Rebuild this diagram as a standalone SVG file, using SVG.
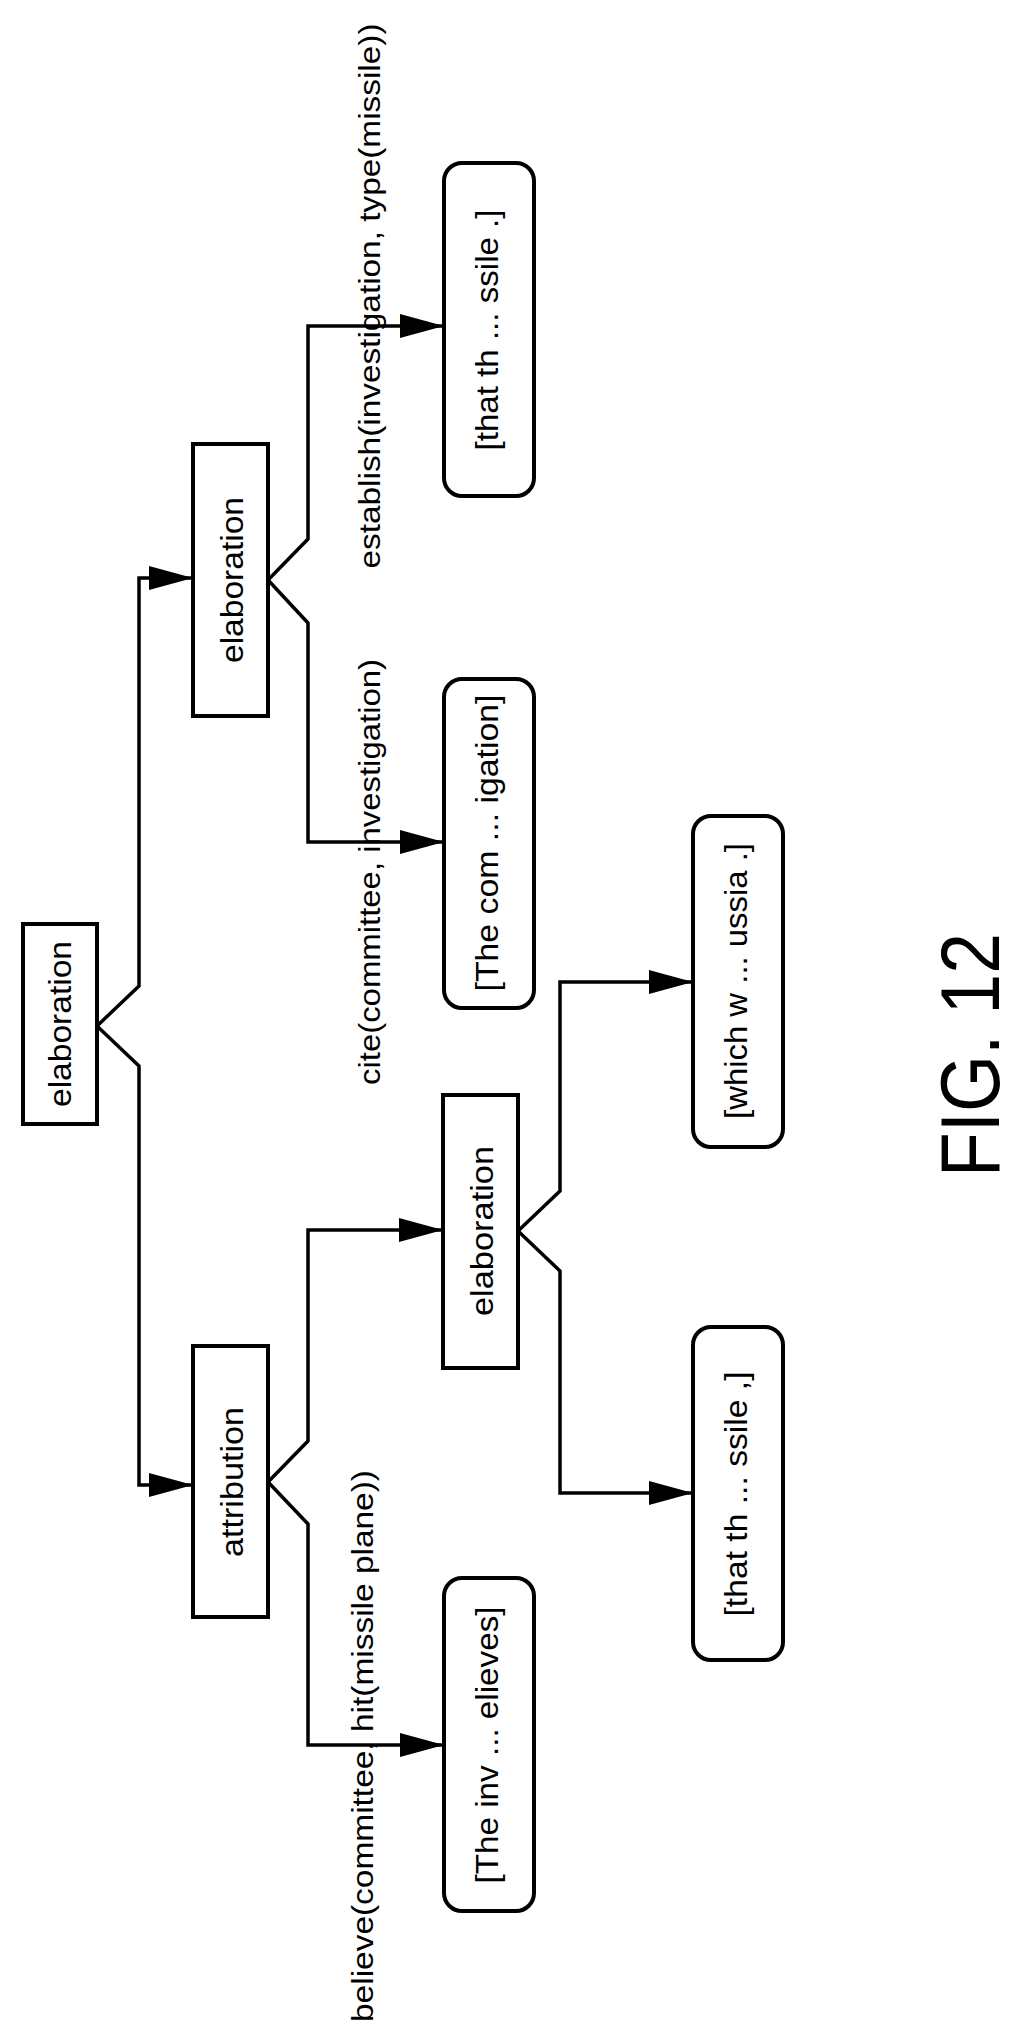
<svg xmlns="http://www.w3.org/2000/svg" width="1016" height="2040" viewBox="0 0 1016 2040">
<style>
.box{fill:#fff;stroke:#000;stroke-width:4}
.t{font-family:"Liberation Sans",Arial,sans-serif;font-size:32px;fill:#000;text-anchor:middle;dominant-baseline:central}
.lbl{font-family:"Liberation Sans",Arial,sans-serif;font-size:30px;fill:#000;text-anchor:middle;dominant-baseline:central}
.c{fill:none;stroke:#000;stroke-width:3.5}
</style>
<defs>
<marker id="a" markerWidth="12" markerHeight="8" refX="12" refY="4" orient="auto" markerUnits="userSpaceOnUse" viewBox="0 0 12 8">
<path d="M0,0 L12,4 L0,8 Z" fill="#000"/>
</marker>
<marker id="ah" markerWidth="44" markerHeight="24" refX="44" refY="12" orient="auto" markerUnits="userSpaceOnUse">
<path d="M0,0 L44,12 L0,24 Z" fill="#000"/>
</marker>
</defs>
<g id="connectors">
<path class="c" d="M97,1026 L139,986 L139,578 L193,578" marker-end="url(#ah)"/>
<path class="c" d="M97,1026 L139,1066 L139,1485 L193,1485" marker-end="url(#ah)"/>
<path class="c" d="M268,580 L308,539 L308,326 L444,326" marker-end="url(#ah)"/>
<path class="c" d="M268,580 L308,623 L308,842 L444,842" marker-end="url(#ah)"/>
<path class="c" d="M268,1482 L308,1441 L308,1230 L443,1230" marker-end="url(#ah)"/>
<path class="c" d="M268,1482 L308,1524 L308,1745 L444,1745" marker-end="url(#ah)"/>
<path class="c" d="M518,1231 L560,1191 L560,982 L693,982" marker-end="url(#ah)"/>
<path class="c" d="M518,1231 L560,1271 L560,1493 L693,1493" marker-end="url(#ah)"/>
</g>
<g id="lbl-establish"><text class="lbl" transform="translate(369,296) rotate(-90)" textLength="545" lengthAdjust="spacingAndGlyphs">establish(investigation, type(missile))</text></g>
<g id="lbl-cite"><text class="lbl" transform="translate(369,872) rotate(-90)" textLength="426" lengthAdjust="spacingAndGlyphs">cite(committee, investigation)</text></g>
<g id="lbl-believe"><text class="lbl" transform="translate(362,1746) rotate(-90)" textLength="552" lengthAdjust="spacingAndGlyphs">believe(committee, hit(missile plane))</text></g>
<g id="n-root"><rect class="box" x="23" y="924" width="74" height="200"/><text class="t" transform="translate(60,1024) rotate(-90)" textLength="166" lengthAdjust="spacingAndGlyphs">elaboration</text></g>
<g id="n-elab2"><rect class="box" x="193" y="444" width="75" height="272"/><text class="t" transform="translate(232,580) rotate(-90)" textLength="166" lengthAdjust="spacingAndGlyphs">elaboration</text></g>
<g id="n-attr"><rect class="box" x="193" y="1346" width="75" height="271"/><text class="t" transform="translate(232,1482) rotate(-90)" textLength="150" lengthAdjust="spacingAndGlyphs">attribution</text></g>
<g id="n-elab3"><rect class="box" x="443" y="1095" width="75" height="273"/><text class="t" transform="translate(482,1231) rotate(-90)" textLength="170" lengthAdjust="spacingAndGlyphs">elaboration</text></g>
<g id="n-that1"><rect class="box" x="444" y="163" width="90" height="333" rx="18"/><text class="t" transform="translate(487,330) rotate(-90)" textLength="241" lengthAdjust="spacingAndGlyphs">[that th ... ssile .]</text></g>
<g id="n-com"><rect class="box" x="444" y="679" width="90" height="329" rx="18"/><text class="t" transform="translate(487,843) rotate(-90)" textLength="297" lengthAdjust="spacingAndGlyphs">[The com ... igation]</text></g>
<g id="n-which"><rect class="box" x="693" y="816" width="90" height="331" rx="18"/><text class="t" transform="translate(736,981) rotate(-90)" textLength="276" lengthAdjust="spacingAndGlyphs">[which w ... ussia .]</text></g>
<g id="n-that2"><rect class="box" x="693" y="1327" width="90" height="333" rx="18"/><text class="t" transform="translate(736,1494) rotate(-90)" textLength="245" lengthAdjust="spacingAndGlyphs">[that th ... ssile ,]</text></g>
<g id="n-inv"><rect class="box" x="444" y="1578" width="90" height="333" rx="18"/><text class="t" transform="translate(487,1745) rotate(-90)" textLength="277" lengthAdjust="spacingAndGlyphs">[The inv ... elieves]</text></g>
<text transform="translate(970,1055) rotate(-90)" font-family="Liberation Sans,Arial,sans-serif" font-size="84" text-anchor="middle" dominant-baseline="central" textLength="244" lengthAdjust="spacingAndGlyphs">FIG. 12</text>
</svg>
